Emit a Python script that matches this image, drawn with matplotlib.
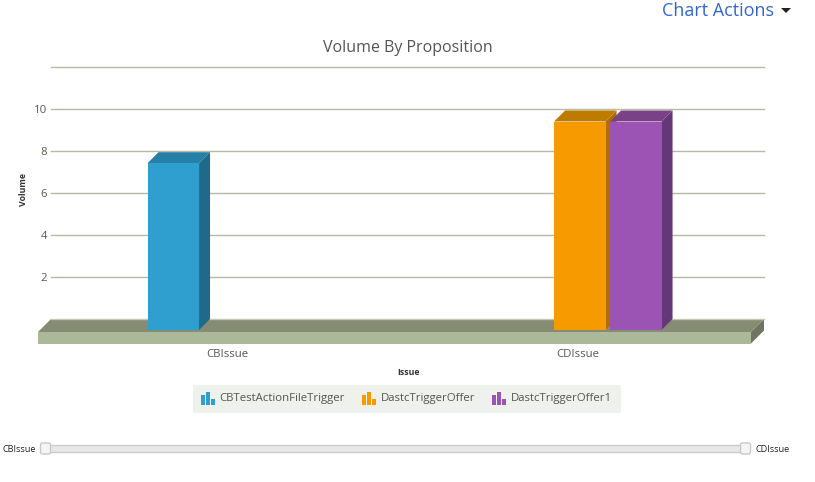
import matplotlib
matplotlib.use("Agg")
import matplotlib.pyplot as plt
from matplotlib.patches import Rectangle, Polygon, FancyBboxPatch

plt.rcParams['font.family'] = ['Open Sans', 'DejaVu Sans']

# data
categories = ['CBIssue', 'CDIssue']
series_names = ['CBTestActionFileTrigger', 'DastcTriggerOffer', 'DastcTriggerOffer1']
series_values = [[8, None], [None, 10], [None, 10]]
y_ticks = [2, 4, 6, 8, 10, 12]
y_tick_labels = ['2', '4', '6', '8', '10', '']

# front, side, top colour of each series
front_cols = ['#2E9FCF', '#F59B00', '#9B54B3']
side_cols = ['#1F6A8A', '#B06E00', '#643878']
top_cols = ['#267FA6', '#BF7A00', '#7A4189']

W, H = 815, 482
PX_PER_CAT = 350.5
PX_PER_UNIT = 20.85

fig = plt.figure(figsize=(W / 100, H / 100), dpi=100)


# axes placed by pixel box (y measured from the top of the picture)
def pixel_axes(left, right, top, bottom, zorder):
    a = fig.add_axes([left / W, 1 - bottom / H, (right - left) / W, (bottom - top) / H], zorder=zorder)
    a.patch.set_alpha(0)
    for s in a.spines.values():
        s.set_visible(False)
    return a


# back wall with the grid
back = pixel_axes(51, 764, 67, 319, 1)
back.set_ylim(0, 12)
back.set_xlim(0, 1)
back.set_xticks([])
back.set_yticks(y_ticks)
back.set_yticklabels(y_tick_labels, fontsize=8.2, color='#5a5a4a')
back.tick_params(axis='y', length=0, pad=3)
back.grid(axis='y', color='#B5BBA3', lw=1.0, clip_on=False)
back.set_axisbelow(True)

# overlay for floor, title, legend and slider, in pixels
ui = pixel_axes(0, W, 0, H, 2)
ui.set_xlim(0, W)
ui.set_ylim(H, 0)
ui.axis('off')

# floor
ui.add_patch(Polygon([(38, 332), (51, 319), (764, 319), (751, 332)], fc='#858C73', ec='none'))
ui.plot([51, 764], [319, 319], color='#C4C9B3', lw=1)
ui.add_patch(Rectangle((38, 332), 713, 11.5, fc='#ABB899', ec='none'))
ui.add_patch(Polygon([(751, 332), (764, 319), (764, 330.5), (751, 343.5)], fc='#6E7561', ec='none'))

# bars on the front plane
ax = pixel_axes(38, 751, 330 - 11 * PX_PER_UNIT, 330, 3)
ax.set_xlim((38 - 227) / PX_PER_CAT, (751 - 227) / PX_PER_CAT)
ax.set_ylim(0, 11)
ax.set_yticks([])
ax.set_xticks(range(len(categories)))
ax.set_xticklabels(categories, fontsize=8.2, color='#555555')
ax.tick_params(axis='x', length=0, pad=13.5)

slot = 56 / PX_PER_CAT
shift = 2.3 / PX_PER_CAT
bar_w = 51.5 / PX_PER_CAT
dx = 11 / PX_PER_CAT
dy = 11 / PX_PER_UNIT

for i, vals in enumerate(series_values):
    for c, v in enumerate(vals):
        if v is None:
            continue
        x0 = c + (i - 1) * slot + shift - bar_w / 2
        x1 = x0 + bar_w
        ax.fill([x0, x1, x1 + dx, x0 + dx], [v, v, v + dy, v + dy], color=top_cols[i], lw=0, clip_on=False, zorder=2 + i)
        ax.fill([x1, x1 + dx, x1 + dx, x1], [0, dy, v + dy, v], color=side_cols[i], lw=0, clip_on=False, zorder=2 + i)
        ax.bar(x0, v, bar_w, align='edge', color=front_cols[i], zorder=2 + i)

# title and menu
ui.text(408, 47.5, 'Volume By Proposition', ha='center', va='center', fontsize=11.5, color='#555555')
ui.text(662, 10.5, 'Chart Actions', ha='left', va='center', fontsize=13, color='#3366CC')
ui.add_patch(Polygon([(781, 8), (791, 8), (786, 13)], fc='#222222', ec='none'))

# axis titles
ui.text(408, 372.5, 'Issue', ha='center', va='center', fontsize=6.3, fontweight='bold', color='#333333')
ui.text(23, 190, 'Volume', ha='center', va='center', rotation=90, fontsize=6.3, fontweight='bold', color='#333333')

# legend
ui.add_patch(Rectangle((193, 385), 428, 28, fc='#EEF1EC', ec='none'))
legend_x = [201, 362, 492]
text_x = [219.5, 380.5, 510.5]
for i, name in enumerate(series_names):
    for off, top in zip([0, 5, 10], [395, 392, 399]):
        ui.add_patch(Rectangle((legend_x[i] + off, top), 3.5, 405 - top, fc=front_cols[i], ec='none'))
    ui.text(text_x[i], 398.5, name, ha='left', va='center', fontsize=8.2, color='#555555')

# range slider
ui.add_patch(Rectangle((45, 445), 700, 6.5, fc='#E8E8E8', ec='#CCCCCC', lw=1))
for hx in [40.5, 740.5]:
    ui.add_patch(FancyBboxPatch((hx + 1, 444), 8, 9, boxstyle='round,pad=1,rounding_size=2', fc='#F5F5F5', ec='#C8C8C8', lw=1))
ui.text(2.5, 449, categories[0], ha='left', va='center', fontsize=6.6, color='#222222')
ui.text(756, 449, categories[1], ha='left', va='center', fontsize=6.6, color='#222222')

fig.savefig('out.png', dpi=100)
